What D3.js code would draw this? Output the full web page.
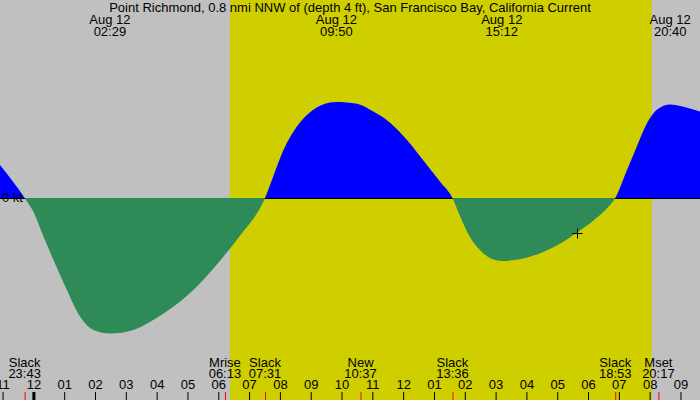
<!DOCTYPE html>
<html>
<head>
<meta charset="utf-8">
<script src="https://cdn.jsdelivr.net/npm/d3@7"></script>
<style>
  html, body { margin: 0; padding: 0; background: #c0c0c0; }
  svg { display: block; font-family: "Liberation Sans", Arial, sans-serif; font-size: 13px; }
</style>
</head>
<body>
<div id="root"></div>
<script>
const title = "Point Richmond, 0.8 nmi NNW of (depth 4 ft), San Francisco Bay, California Current";

// current samples (day hh:mm, knots)
const sampleTimes = [
  "11 22:55", "11 23:43", "12 00:00", "12 00:20", "12 00:39", "12 01:05", "12 01:31",
  "12 01:57", "12 02:29", "12 03:15", "12 03:54", "12 04:33", "12 05:12", "12 05:51",
  "12 06:23", "12 06:43", "12 07:31", "12 07:47", "12 08:07", "12 08:33", "12 09:05",
  "12 09:38", "12 09:50", "12 10:30", "12 11:02", "12 11:35", "12 12:07", "12 12:39",
  "12 13:12", "12 13:36", "12 13:51", "12 14:10", "12 14:30", "12 14:49", "12 15:12",
  "12 15:41", "12 16:27", "12 17:06", "12 17:38", "12 18:11", "12 18:37", "12 18:53",
  "12 19:16", "12 19:35", "12 19:55", "12 20:14", "12 20:40", "12 21:06", "12 21:38",
];
const sampleKnots = [
  0.55, 0, -0.23, -0.65, -1.03, -1.53, -1.98,
  -2.2, -2.26, -2.2, -2.03, -1.81, -1.53, -1.17,
  -0.84, -0.62, 0, 0.36, 0.8, 1.19, 1.47,
  1.59, 1.6, 1.57, 1.44, 1.25, 0.97, 0.63,
  0.27, 0, -0.31, -0.65, -0.87, -1.0, -1.05,
  -1.03, -0.92, -0.76, -0.58, -0.37, -0.17, 0,
  0.47, 0.86, 1.25, 1.47, 1.56, 1.52, 1.44,
];

// max flood / max ebb labels along the top
const peakDates = ["Aug 12", "Aug 12", "Aug 12", "Aug 12"];
const peakTimes = ["12 02:29", "12 09:50", "12 15:12", "12 20:40"];

// slack and moon events along the bottom
const eventNames = ["Slack", "Mrise", "Slack", "New", "Slack", "Slack", "Mset"];
const eventTimes = ["11 23:43", "12 06:13", "12 07:31", "12 10:37", "12 13:36", "12 18:53", "12 20:17"];

// daylight band
const sunrise = "12 06:23";
const sunset = "12 20:04";

// chart window and current-time marker
const windowStart = "11 22:55";
const windowEnd = "12 21:38";
const nowTime = "12 17:39";
const nowKnots = -0.575;

const W = 700, H = 400;
const parse = d3.utcParse("%d %H:%M");
const hhmm = d3.utcFormat("%H:%M");

const x = d3.scaleUtc()
  .domain([parse(windowStart), parse(windowEnd)])
  .range([0, W]);
const y = d3.scaleLinear()
  .domain([-3.3, 3.3])
  .range([396, 0]);

const data = sampleTimes.map((t, i) => ({ t: parse(t), v: sampleKnots[i] }));

const svg = d3.select("#root")
  .append("svg")
  .attr("width", W)
  .attr("height", H)
  .attr("viewBox", `0 0 ${W} ${H}`);

const defs = svg.append("defs");
defs.append("clipPath").attr("id", "above")
  .append("rect").attr("x", 0).attr("y", 0).attr("width", W).attr("height", y(0));
defs.append("clipPath").attr("id", "below")
  .append("rect").attr("x", 0).attr("y", y(0)).attr("width", W).attr("height", H - y(0));

svg.append("rect")
  .attr("width", W)
  .attr("height", H)
  .attr("fill", "#c0c0c0");

svg.append("rect")
  .attr("x", x(parse(sunrise)))
  .attr("y", 0)
  .attr("width", x(parse(sunset)) - x(parse(sunrise)))
  .attr("height", H)
  .attr("fill", "#cfcf00");

svg.append("line")
  .attr("x1", 0)
  .attr("x2", W)
  .attr("y1", y(0) + 0.5)
  .attr("y2", y(0) + 0.5)
  .attr("stroke", "#000")
  .attr("stroke-width", 1);

const current = d3.area()
  .x((d) => x(d.t))
  .y0(y(0))
  .y1((d) => y(d.v))
  .curve(d3.curveMonotoneX);

// ebb below zero, flood above
svg.append("path").attr("d", current(data)).attr("fill", "#2e8b57").attr("clip-path", "url(#below)");
svg.append("path").attr("d", current(data)).attr("fill", "#0000ff").attr("clip-path", "url(#above)");

svg.append("text")
  .attr("x", 2)
  .attr("y", y(0) + 4)
  .text("0 kt");

// current time marker
const nx = Math.round(x(parse(nowTime))) + 0.5;
const ny = Math.round(y(nowKnots)) + 0.5;
svg.append("path")
  .attr("d", `M${nx - 5},${ny}H${nx + 5}M${nx},${ny - 5}V${ny + 5}`)
  .attr("stroke", "#000")
  .attr("fill", "none");

// title and peak labels
svg.append("text")
  .attr("x", W / 2)
  .attr("y", 12)
  .attr("text-anchor", "middle")
  .text(title);

const peaks = svg.append("g").attr("text-anchor", "middle");
peakTimes.forEach((t, i) => {
  const px = x(parse(t));
  peaks.append("text").attr("x", px).attr("y", 24).text(peakDates[i]);
  peaks.append("text").attr("x", px).attr("y", 36).text(hhmm(parse(t)));
});

// event labels above the axis
const events = svg.append("g").attr("text-anchor", "middle");
eventTimes.forEach((t, i) => {
  const ex = x(parse(t));
  events.append("text").attr("x", ex).attr("y", 367).text(eventNames[i]);
  events.append("text").attr("x", ex).attr("y", 378).text(hhmm(parse(t)));
});

// hour axis
const hourAxis = d3.axisTop(x)
  .ticks(d3.utcHour.every(1))
  .tickFormat(d3.utcFormat("%I"))
  .tickSize(8)
  .tickPadding(3);

const gx = svg.append("g")
  .attr("transform", `translate(0,${H})`)
  .call(hourAxis);
gx.select(".domain").remove();
gx.selectAll("text")
  .attr("fill", "#000")
  .attr("font-size", 13)
  .attr("font-family", "Liberation Sans, Arial, sans-serif");
gx.selectAll(".tick line")
  .attr("stroke", "#000")
  .attr("stroke-width", (d) => (d.getUTCHours() === 0 ? 3 : 1));

// red event ticks
const eventAxis = d3.axisTop(x)
  .tickValues(eventTimes.map(parse))
  .tickFormat("")
  .tickSize(8);
const ge = svg.append("g")
  .attr("transform", `translate(0,${H})`)
  .call(eventAxis);
ge.select(".domain").remove();
ge.selectAll(".tick line").attr("stroke", "#ff0000");
</script>
</body>
</html>
